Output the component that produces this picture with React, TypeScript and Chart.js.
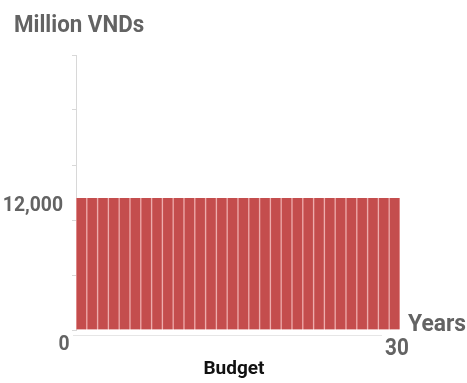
import React, { useEffect, useRef } from "react";
import { Chart, registerables } from "chart.js";

Chart.register(...registerables);

const years: string[] = Array.from({ length: 30 }, (_, i) => String(i + 1));
const budget: number[] = [
  12000, 12000, 12000, 12000, 12000, 12000, 12000, 12000, 12000, 12000,
  12000, 12000, 12000, 12000, 12000, 12000, 12000, 12000, 12000, 12000,
  12000, 12000, 12000, 12000, 12000, 12000, 12000, 12000, 12000, 12000,
];
const yTickValue = 12000;
const yTickLabel = "12,000";
const xStartLabel = "0";
const xEndLabel = "30";
const yTitle = "Million VNDs";
const xTitle = "Years";
const seriesName = "Budget";

function txt(ctx: any, s: string, x: number, y: number, align: string, font: string, sx: number) {
  ctx.save();
  ctx.font = font;
  ctx.textAlign = align;
  ctx.textBaseline = "alphabetic";
  ctx.translate(x, y);
  ctx.scale(sx, 1);
  ctx.fillText(s, 0, 0);
  ctx.restore();
}

export default function App() {
  const ref = useRef<HTMLCanvasElement | null>(null);
  useEffect(() => {
    document.body.style.margin = "0";
    const labelsPlugin = {
      id: "labels",
      afterDraw(chart: any) {
        const { ctx, chartArea } = chart;
        const y = chart.scales.y;
        ctx.save();
        ctx.strokeStyle = "#e6e6e6";
        ctx.lineWidth = 1;
        ctx.beginPath();
        ctx.moveTo(chartArea.left - 3, chartArea.bottom + 5.5);
        ctx.lineTo(chartArea.right - 18, chartArea.bottom + 5.5);
        ctx.stroke();
        ctx.fillStyle = "#636363";
        txt(ctx, yTitle, 14, 32, "left", "bold 24px Roboto", 0.93);
        txt(ctx, yTickLabel, 63, y.getPixelForValue(yTickValue) + 13, "right", "bold 21px Roboto", 0.92);
        txt(ctx, xStartLabel, 64, chartArea.bottom + 20, "center", "bold 21px Roboto", 0.92);
        txt(ctx, xEndLabel, chartArea.right - 3, chartArea.bottom + 25, "center", "bold 23px Roboto", 0.9);
        txt(ctx, xTitle, 408, chartArea.bottom + 1, "left", "bold 24px Roboto", 0.95);
        ctx.fillStyle = "#111111";
        txt(ctx, seriesName, 234, chartArea.bottom + 44, "center", "bold 19px Roboto", 1);
        ctx.restore();
      },
    };
    const chart = new Chart(ref.current as HTMLCanvasElement, {
      type: "bar",
      data: {
        labels: years,
        datasets: [
          {
            label: seriesName,
            data: budget,
            backgroundColor: "#c44d4d",
            borderColor: "#eda8a8",
            borderWidth: { left: 1, right: 1, top: 0, bottom: 0 },
            borderSkipped: false,
            barPercentage: 1,
            categoryPercentage: 1,
          },
        ],
      },
      options: {
        animation: false,
        responsive: false,
        maintainAspectRatio: false,
        layout: { padding: { top: 55, bottom: 53, left: 0, right: 67 } },
        plugins: { legend: { display: false }, tooltip: { enabled: false } },
        scales: {
          x: { display: false },
          y: {
            min: 0,
            max: 25000,
            ticks: { stepSize: 5000, display: false },
            grid: { drawOnChartArea: false, drawTicks: true, tickLength: 4, color: "#d8d8d8" },
            border: { display: true, color: "#d8d8d8" },
            afterFit(scale: any) {
              scale.width = 76;
            },
          },
        },
      },
      plugins: [labelsPlugin],
    });
    return () => chart.destroy();
  }, []);
  return <canvas ref={ref} width={467} height={383} style={{ display: "block" }} />;
}
